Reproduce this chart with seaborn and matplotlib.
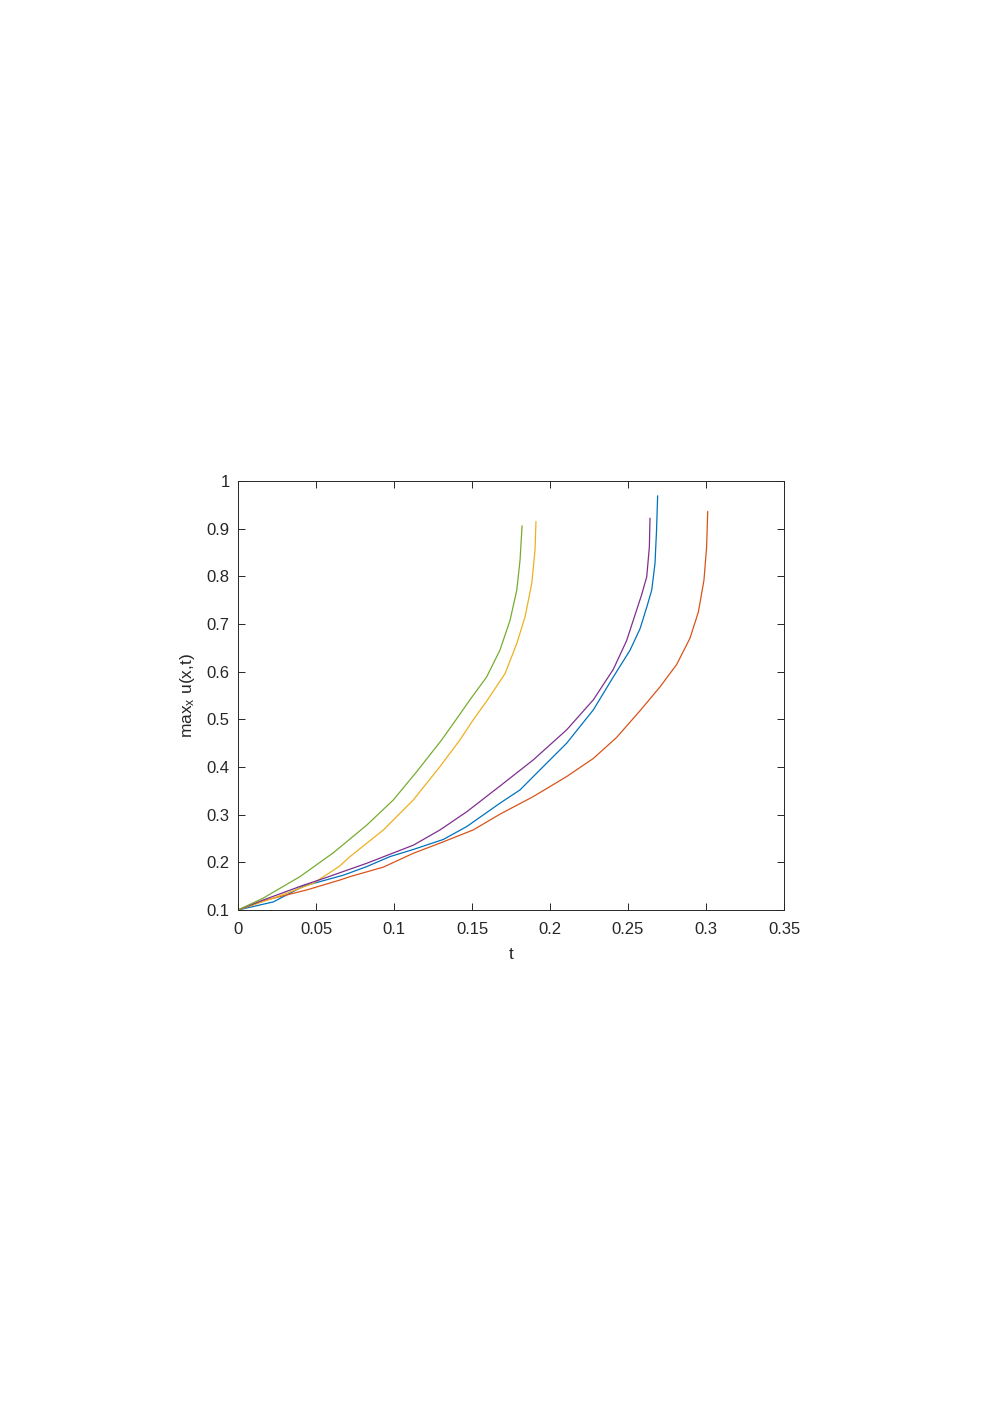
import pandas as pd
import matplotlib
matplotlib.use('Agg')
import matplotlib.pyplot as plt
import seaborn as sns

# curve values (t, max_x u)
t_blue = [0, 0.0227, 0.0419, 0.0675, 0.0825, 0.0974, 0.1124, 0.1316, 0.1466, 0.1679, 0.1808,
          0.1893, 0.2107, 0.2278, 0.2406, 0.2513, 0.2577, 0.262, 0.2652, 0.2673, 0.2683, 0.2690]
u_blue = [0.1, 0.117, 0.150, 0.173, 0.191, 0.212, 0.227, 0.248, 0.275, 0.324, 0.352,
          0.380, 0.450, 0.520, 0.589, 0.645, 0.690, 0.735, 0.771, 0.827, 0.897, 0.969]

t_red = [0, 0.0182, 0.044, 0.0654, 0.0718, 0.0932, 0.1124, 0.1316, 0.1508, 0.1679, 0.1893,
         0.2107, 0.2278, 0.2427, 0.2577, 0.2705, 0.2812, 0.2897, 0.2951, 0.2987, 0.3004, 0.3011]
u_red = [0.1, 0.121, 0.142, 0.163, 0.170, 0.190, 0.219, 0.243, 0.268, 0.301, 0.338,
         0.380, 0.418, 0.462, 0.518, 0.568, 0.615, 0.670, 0.725, 0.792, 0.862, 0.936]

t_yellow = [0, 0.0227, 0.0483, 0.0647, 0.0718, 0.0932, 0.1124, 0.1295, 0.1423, 0.1508, 0.160,
            0.1712, 0.1787, 0.1840, 0.1883, 0.1904, 0.1910]
u_yellow = [0.1, 0.125, 0.156, 0.191, 0.212, 0.268, 0.331, 0.401, 0.457, 0.499, 0.541,
            0.596, 0.659, 0.715, 0.785, 0.855, 0.915]

t_purple = [0, 0.0162, 0.0419, 0.0547, 0.0825, 0.1124, 0.1295, 0.1466, 0.1679, 0.1893, 0.2107,
            0.2278, 0.2406, 0.2491, 0.2556, 0.2588, 0.262, 0.2637, 0.2641]
u_purple = [0.1, 0.121, 0.152, 0.166, 0.198, 0.236, 0.268, 0.306, 0.360, 0.415, 0.478,
            0.541, 0.605, 0.665, 0.730, 0.762, 0.799, 0.862, 0.922]

t_green = [0, 0.0162, 0.0397, 0.0611, 0.0825, 0.0996, 0.1145, 0.1306, 0.1397, 0.1487, 0.1594,
           0.1679, 0.1744, 0.1787, 0.1808, 0.1821]
u_green = [0.1, 0.125, 0.170, 0.220, 0.278, 0.331, 0.390, 0.457, 0.499, 0.541, 0.589,
           0.645, 0.708, 0.771, 0.834, 0.906]

series = ['s1', 's2', 's3', 's4', 's5']
colors = ['#0072BD', '#D95319', '#EDB120', '#7E2F8E', '#77AC30']

frames = []
for name, t, u in zip(series,
                      [t_blue, t_red, t_yellow, t_purple, t_green],
                      [u_blue, u_red, u_yellow, u_purple, u_green]):
    frames.append(pd.DataFrame({'t': t, 'u': u, 'run': name}))
df = pd.concat(frames, ignore_index=True)

sns.set_style('ticks')
plt.rcParams['font.family'] = ['Liberation Sans', 'DejaVu Sans']
plt.rcParams['mathtext.fontset'] = 'custom'
plt.rcParams['mathtext.rm'] = 'Liberation Sans'
plt.rcParams['mathtext.it'] = 'Liberation Sans:italic'

fig = plt.figure(figsize=(9.97, 14.10), dpi=100)
ax = fig.add_axes([238 / 997, 1 - 910 / 1410, (784 - 238) / 997, (910 - 481) / 1410])

sns.lineplot(data=df, x='t', y='u', hue='run', palette=colors, sort=False,
             estimator=None, legend=False, linewidth=0.9, ax=ax)

ax.set_xlim(0, 0.35)
ax.set_ylim(0.1, 1)
ax.set_xticks([0, 0.05, 0.1, 0.15, 0.2, 0.25, 0.3, 0.35])
ax.set_xticklabels(['0', '0.05', '0.1', '0.15', '0.2', '0.25', '0.3', '0.35'])
ax.set_yticks([0.1, 0.2, 0.3, 0.4, 0.5, 0.6, 0.7, 0.8, 0.9, 1])
ax.set_yticklabels(['0.1', '0.2', '0.3', '0.4', '0.5', '0.6', '0.7', '0.8', '0.9', '1'])
ax.tick_params(direction='in', length=5, width=0.7, colors='#262626', labelsize=12,
               top=True, right=True, pad=6)
ax.tick_params(axis='x', pad=9)
for s in ax.spines.values():
    s.set_visible(True)
    s.set_linewidth(0.7)
    s.set_color('#262626')

ax.set_xlabel('t', fontsize=12.5, color='#262626', labelpad=7)
ax.set_ylabel(r'max$_{\mathrm{x}}$ u(x,t)', fontsize=12.5, color='#262626', labelpad=7)

plt.savefig('out.png', dpi=100)
plt.close()
